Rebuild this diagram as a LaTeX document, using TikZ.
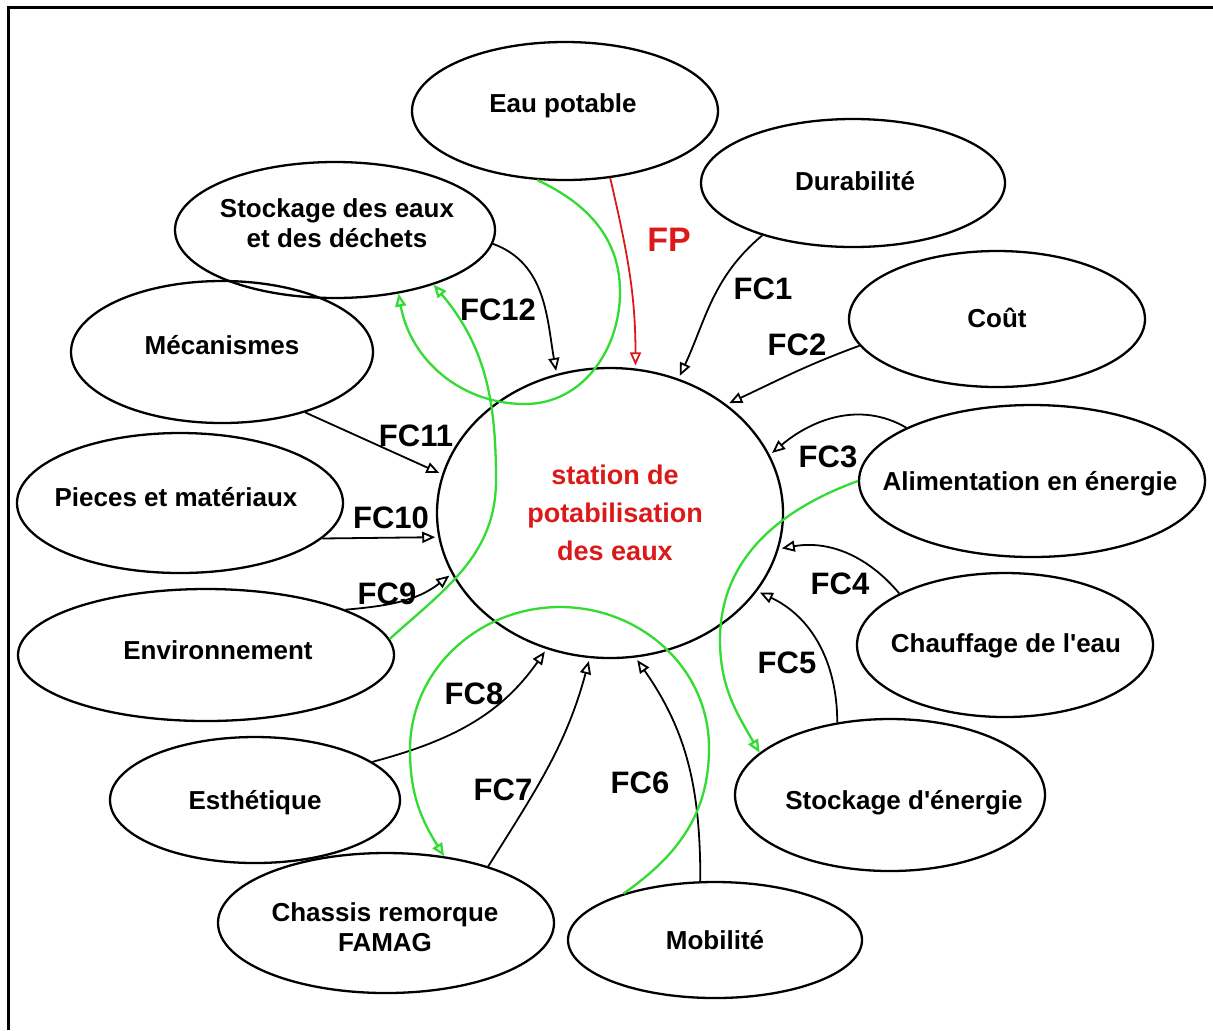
\documentclass[tikz,border=0pt]{standalone}
\usepackage{fontspec}
\setmainfont{Liberation Sans}
\usetikzlibrary{shapes.geometric,arrows.meta}
\definecolor{fpred}{RGB}{220,25,25}
\definecolor{linkgreen}{RGB}{50,220,50}
\begin{document}
\begin{tikzpicture}[x=0.5pt,y=-0.5pt,
  bub/.style 2 args={ellipse,draw,line width=1.15pt,inner sep=0pt,
    minimum width=#1pt,minimum height=#2pt},
  lbl/.style={font=\fontsize{13}{15}\selectfont\bfseries,inner sep=0pt,
    text height=9.3pt,text depth=0pt},
  lbltwo/.style={font=\fontsize{13}{15}\selectfont\bfseries,inner sep=0pt,align=center},
  fclbl/.style={font=\fontsize{15.5}{18}\selectfont\bfseries,inner sep=0pt,
    text height=11.1pt,text depth=0pt},
  flow/.style={draw,line width=0.9pt,shorten >=1.5pt,
    -{Triangle[open,length=6.5pt,width=5.5pt]}},
  gflow/.style={draw=linkgreen,line width=1.15pt,
    -{Triangle[open,length=6.5pt,width=5.5pt]}}]

\useasboundingbox (0,0) rectangle (1213,1030);
\fill[white] (0,0) rectangle (1213,1030);
% frame (left and top sides)
\draw[line width=1.5pt] (8,1030) -- (8,7) -- (1213,7);

% surrounding elements
\node[bub={153}{69}]  (eau)   at (565,111) {};
\node[bub={152}{64}]  (dur)   at (853,183) {};
\node[bub={160}{68}]  (stk)   at (335,230) {};
\node[bub={148}{68}]  (cout)  at (997,319) {};
\node[bub={151}{71}]  (meca)  at (222,352) {};
\node[bub={173}{76}]  (alim)  at (1032,481) {};
\node[bub={163}{70}]  (piec)  at (180,503) {};
\node[bub={148}{72}]  (chauf) at (1005,645) {};
\node[bub={188}{66}]  (env)   at (206,655) {};
\node[bub={155}{76}]  (stke)  at (890,795) {};
\node[bub={145}{63}]  (esth)  at (255,800) {};
\node[bub={168}{70}]  (chas)  at (386,923) {};
\node[bub={147}{58}]  (mob)   at (715,940) {};
% the station itself
\node[bub={173}{145}] (stn)   at (610,513) {};

% texts
\node[lbl] (eau-t)   at (563,103) {Eau potable};
\node[lbl] (dur-t)   at (855,181) {Durabilité};
\node[lbltwo] (stk-t) at (337,223) {Stockage des eaux\\et des déchets};
\node[lbl] (cout-t)  at (997,318) {Coût};
\node[lbl] (meca-t)  at (222,345) {Mécanismes};
\node[lbl] (alim-t)  at (1030,481) {Alimentation en énergie};
\node[lbl] (piec-t)  at (176,497) {Pieces et matériaux};
\node[lbl] (chauf-t) at (1006,643) {Chauffage de l\textquotesingle eau};
\node[lbl] (env-t)   at (218,650) {Environnement};
\node[lbl] (stke-t)  at (904,800) {Stockage d\textquotesingle énergie};
\node[lbl] (esth-t)  at (255,800) {Esthétique};
\node[lbltwo] (chas-t) at (385,927) {Chassis remorque\\FAMAG};
\node[lbl] (mob-t)   at (715,940) {Mobilité};
\node[font=\fontsize{13.5}{19}\selectfont\bfseries,text=fpred,align=center,inner sep=0pt]
  (stn-t) at (615,513) {station de\\potabilisation\\des eaux};

% main function
\draw[flow,draw=fpred] (eau.-56) to[out=-77,in=90] (stn.80);
\node[font=\fontsize{17}{20}\selectfont\bfseries,text=fpred,inner sep=0pt,
  text height=12.2pt,text depth=0pt] (fp) at (669,239) {FP};

% constraint functions
\draw[flow] (dur.210)   to[out=220,in=65]   (stn.63);
\draw[flow] (cout.191)  to[out=200,in=25]   (stn.43);
\draw[flow] (alim.157)  to[out=150,in=40]   (stn.20);
\draw[flow] (chauf.154) to[out=130,in=10]   (stn.-12);
\draw[flow] (stke.126)  to[out=90,in=-25]   (stn.-28);
\draw[flow] (mob.104)   to[out=90,in=-55]   (stn.-80);
\draw[flow] (chas.29)   to[out=58,in=-105]  (stn.-98);
\draw[flow] (esth.18)   to[out=15,in=-125]  (stn.-115);
\draw[flow] (env.18)    to[out=5,in=-142]   (stn.201);
\draw[flow] (piec.-14)  --                  (stn.188);
\draw[flow] (meca.-36)  --                  (stn.167);
\draw[flow] (stk.-5)    to[out=-20,in=100]  (stn.111);

\node[fclbl] (fc1)  at (763,288) {FC1};
\node[fclbl] (fc2)  at (797,344) {FC2};
\node[fclbl] (fc3)  at (828,456) {FC3};
\node[fclbl] (fc4)  at (840,583) {FC4};
\node[fclbl] (fc5)  at (787,662) {FC5};
\node[fclbl] (fc6)  at (640,782) {FC6};
\node[fclbl] (fc7)  at (503,789) {FC7};
\node[fclbl] (fc8)  at (474,693) {FC8};
\node[fclbl] (fc9)  at (387,593) {FC9};
\node[fclbl] (fc10) at (391,517) {FC10};
\node[fclbl] (fc11) at (416,435) {FC11};
\node[fclbl] (fc12) at (498,309) {FC12};

% links between surrounding elements
\draw[gflow] (eau.-112) to[out=-25,in=90] (620,292)
  to[out=-90,in=0] (525,404) to[out=180,in=-80] (stk.-45);
\draw[gflow] (env.5) to[out=42,in=-90] (496,480)
  to[out=90,in=-50] (stk.-29);
\draw[gflow] (alim.180) to[out=200,in=90] (720,640)
  to[out=-90,in=120] (stke.162);
\draw[gflow] (mob.153) to[out=35,in=-90] (709,748)
  to[out=90,in=0] (560,607) to[out=180,in=90] (410,750)
  to[out=-90,in=122] (chas.49);
\end{tikzpicture}
\end{document}
